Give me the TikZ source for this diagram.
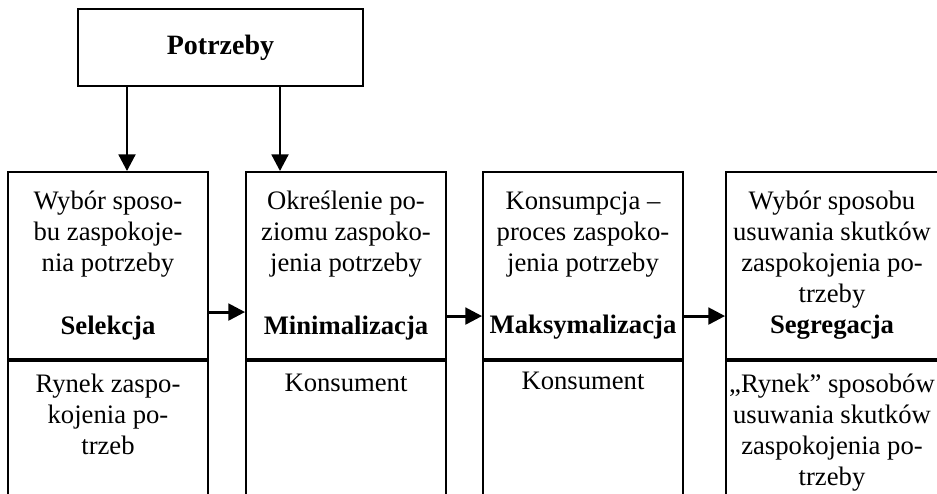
\documentclass[tikz,border=0pt]{standalone}
\usepackage{fontspec}
\setmainfont{Liberation Serif}
\usetikzlibrary{arrows.meta}

\begin{document}
\begin{tikzpicture}[x=0.75pt, y=-0.75pt,
    every node/.style={font=\fontsize{20}{23.3}\selectfont, align=center},
    box/.style={draw, line width=1.4pt, inner xsep=0pt, minimum width=150pt, minimum height=140.25pt},
    cell/.style={draw, line width=1.4pt, inner xsep=0pt, inner ysep=10pt, minimum width=150pt, anchor=north, text depth=120pt},
    arr/.style={-{Triangle[length=12.5pt, width=12.5pt]}, line width=2.2pt}]
    \useasboundingbox (0,0) rectangle (937,493);
    \clip (0,0) rectangle (937,493);

    \node[draw, line width=1.4pt, minimum width=213.75pt, minimum height=57.75pt, font=\fontsize{21}{24}\selectfont\bfseries] (potrzeby) at (220.5,47.5) {Potrzeby};

    \node[box] (selekcja) at (108,265.5) {Wybór sposo-\\bu zaspokoje-\\nia potrzeby\\[23.3pt]\textbf{Selekcja}};
    \node[box] (minim) at (346,265.5) {Określenie po-\\ziomu zaspoko-\\jenia potrzeby\\[23.3pt]\textbf{Minimalizacja}};
    \node[box] (maks) at (583,265.5) {Konsumpcja --\\proces zaspoko-\\jenia potrzeby\\[23.3pt]\textbf{Maksymalizacja}};
    \node[box, minimum width=159pt] (segreg) at (832,265.5) {Wybór sposobu\\usuwania skutków\\zaspokojenia po-\\trzeby\\\textbf{Segregacja}};

    \node[cell] (rynek) at (selekcja.south) {Rynek zaspo-\\kojenia po-\\trzeb};
    \node[cell] (konsA) at (minim.south) {Konsument};
    \node[cell, inner ysep=8pt] (konsB) at (maks.south) {Konsument};
    \node[cell, minimum width=159pt] (rynekU) at (segreg.south) {„Rynek” sposobów\\usuwania skutków\\zaspokojenia po-\\trzeby};

    \draw[arr] (potrzeby.south -| 127,0) -- (selekcja.north -| 127,0);
    \draw[arr] (potrzeby.south -| 280,0) -- (minim.north -| 280,0);
    \draw[arr] ([yshift=-34.9pt]selekcja.east) -- ([yshift=-34.9pt]minim.west);
    \draw[arr] ([yshift=-37.9pt]minim.east) -- ([yshift=-37.9pt]maks.west);
    \draw[arr] ([yshift=-37.9pt]maks.east) -- ([yshift=-37.9pt]segreg.west);
\end{tikzpicture}
\end{document}
